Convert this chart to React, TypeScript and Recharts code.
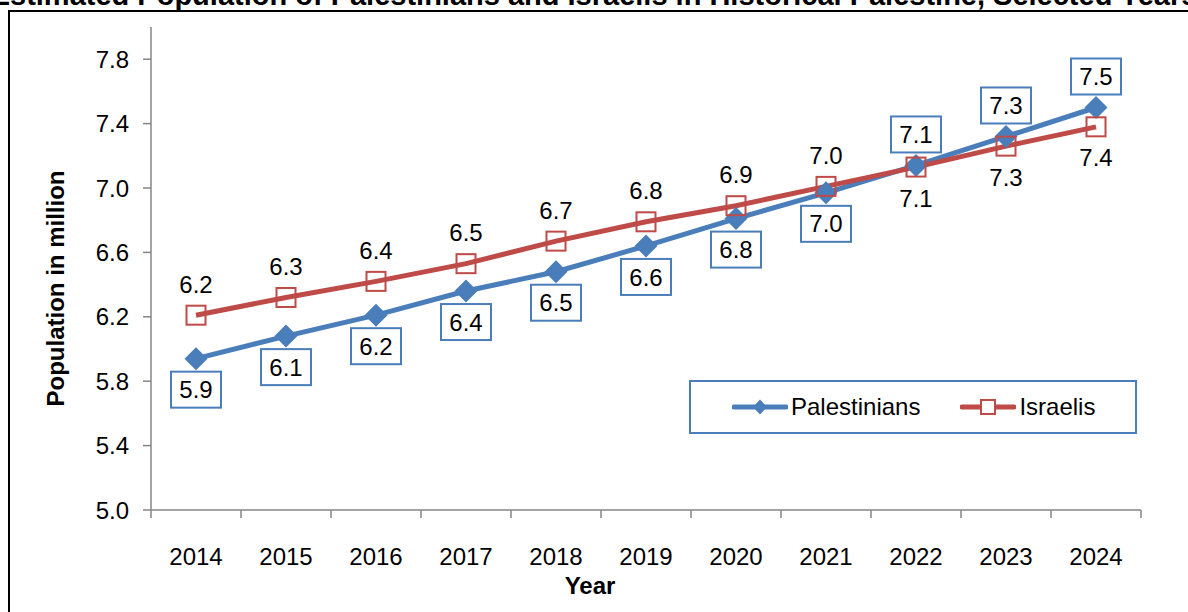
import { LineChart, Line, XAxis, YAxis, LabelList, Label } from 'recharts';

const years = ['2014', '2015', '2016', '2017', '2018', '2019', '2020', '2021', '2022', '2023', '2024'];
const palestinians = [5.94, 6.08, 6.21, 6.36, 6.48, 6.64, 6.81, 6.97, 7.14, 7.32, 7.5];
const israelis = [6.21, 6.32, 6.42, 6.53, 6.67, 6.79, 6.89, 7.01, 7.13, 7.26, 7.38];
const yTicks = [5.0, 5.4, 5.8, 6.2, 6.6, 7.0, 7.4, 7.8];

const TITLE = 'Estimated Population of Palestinians and Israelis in Historical Palestine, Selected Years';
const BLUE = '#4A7EBB';
const RED = '#BE4B48';
const AXIS = '#868686';
const FONT = '"Liberation Sans", Arial, sans-serif';
const FS = 24;

const data = years.map((year, i) => ({
  year,
  palestinians: palestinians[i],
  israelis: israelis[i],
}));

// labels flip sides once the lines cross (2022 onwards)
const flipFrom = 8;

const Diamond = (props: any) => {
  const { cx, cy } = props;
  if (cx == null || cy == null) return null;
  const r = 11.5;
  return (
    <polygon
      points={`${cx},${cy - r} ${cx + r},${cy} ${cx},${cy + r} ${cx - r},${cy}`}
      fill={BLUE}
    />
  );
};

const Square = (props: any) => {
  const { cx, cy } = props;
  if (cx == null || cy == null) return null;
  return <rect x={cx - 9.5} y={cy - 9.5} width={19} height={19} fill="none" stroke={RED} strokeWidth={2} />;
};

const BoxLabel = (props: any) => {
  const { x, y, value, index } = props;
  const cy = y + (index >= flipFrom ? -31 : 31);
  return (
    <g>
      <rect x={x - 25} y={cy - 18} width={50} height={36} fill="#fff" stroke={BLUE} strokeWidth={2} />
      <text x={x} y={cy} dy="0.36em" textAnchor="middle" fontSize={FS} fill="#000" fontFamily={FONT}>
        {Number(value).toFixed(1)}
      </text>
    </g>
  );
};

const PlainLabel = (props: any) => {
  const { x, y, value, index } = props;
  const cy = y + (index >= flipFrom ? 31 : -31);
  return (
    <text x={x} y={cy} dy="0.36em" textAnchor="middle" fontSize={FS} fill="#000" fontFamily={FONT}>
      {Number(value).toFixed(1)}
    </text>
  );
};

// Excel-style category axis: tick marks sit between the categories
const YearTick = (props: any) => {
  const { x, y, payload, index, visibleTicksCount } = props;
  const half = payload.offset || 45;
  const last = index === visibleTicksCount - 1;
  return (
    <g>
      <line x1={x - half} y1={y} x2={x - half} y2={y + 8} stroke={AXIS} strokeWidth={1.5} />
      {last && <line x1={x + half} y1={y} x2={x + half} y2={y + 8} stroke={AXIS} strokeWidth={1.5} />}
      <text x={x} y={y + 46} dy="0.36em" textAnchor="middle" fontSize={FS} fill="#000" fontFamily={FONT}>
        {payload.value}
      </text>
    </g>
  );
};

const LegendBox = () => (
  <div
    style={{
      position: 'absolute',
      left: 689,
      top: 380,
      boxSizing: 'border-box',
      width: 448,
      height: 54,
      border: `2px solid ${BLUE}`,
      background: '#fff',
      display: 'flex',
      alignItems: 'center',
      paddingLeft: 41,
      fontSize: FS,
      fontFamily: FONT,
      color: '#000',
      whiteSpace: 'nowrap',
    }}
  >
    <svg width={56} height={24} style={{ marginRight: 3 }}>
      <line x1={2} y1={12} x2={54} y2={12} stroke={BLUE} strokeWidth={5} strokeLinecap="round" />
      <polygon points="28,4.5 35,12 28,19.5 21,12" fill={BLUE} />
    </svg>
    <span>Palestinians</span>
    <svg width={56} height={24} style={{ marginLeft: 40, marginRight: 3 }}>
      <line x1={2} y1={12} x2={54} y2={12} stroke={RED} strokeWidth={5} strokeLinecap="round" />
      <rect x={21} y={5} width={14} height={14} fill="#fff" stroke={RED} strokeWidth={2} />
    </svg>
    <span>Israelis</span>
  </div>
);

export default function App() {
  return (
    <div
      style={{
        position: 'fixed',
        left: 0,
        top: 0,
        width: 1188,
        height: 612,
        overflow: 'hidden',
        background: '#fff',
        fontFamily: FONT,
      }}
    >
      <div
        style={{
          position: 'absolute',
          left: 0,
          top: -19,
          width: 1188,
          display: 'flex',
          justifyContent: 'center',
          whiteSpace: 'nowrap',
          fontWeight: 'bold',
          fontSize: 29,
          lineHeight: '29px',
          color: '#000',
        }}
      >
        <span>{TITLE}</span>
      </div>
      <div
        style={{
          position: 'absolute',
          left: 8,
          top: 10,
          width: 1300,
          height: 700,
          borderTop: '2px solid #000',
          borderLeft: '2px solid #000',
        }}
      />
      <div style={{ position: 'absolute', left: 0, top: 0 }}>
        <LineChart width={1188} height={612} data={data} margin={{ top: 27, right: 47, bottom: 0, left: 0 }}>
          <XAxis
            dataKey="year"
            scale="band"
            height={102}
            tickLine={false}
            tickSize={0}
            tickMargin={0}
            axisLine={{ stroke: AXIS, strokeWidth: 1.5 }}
            tick={<YearTick />}
            interval={0}
          >
            <Label
              content={(p: any) => {
                const vb = p.viewBox;
                return (
                  <text
                    x={vb.x + vb.width / 2 - 56}
                    y={vb.y + 75}
                    dy="0.36em"
                    textAnchor="middle"
                    fontSize={FS}
                    fontWeight="bold"
                    fill="#000"
                    fontFamily={FONT}
                  >
                    Year
                  </text>
                );
              }}
            />
          </XAxis>
          <YAxis
            width={151}
            domain={[5, 8]}
            ticks={yTicks}
            interval={0}
            tickFormatter={(v: number) => v.toFixed(1)}
            tickSize={8}
            tickMargin={14}
            tickLine={{ stroke: AXIS, strokeWidth: 1.5 }}
            axisLine={{ stroke: AXIS, strokeWidth: 1.5 }}
            tick={{ fill: '#000', fontSize: FS, fontFamily: FONT }}
          >
            <Label
              content={(p: any) => {
                const vb = p.viewBox;
                const cx = vb.x + 55;
                const cy = vb.y + vb.height / 2 + 20;
                return (
                  <text
                    x={cx}
                    y={cy}
                    dy="0.36em"
                    transform={`rotate(-90, ${cx}, ${cy})`}
                    textAnchor="middle"
                    fontSize={FS}
                    fontWeight="bold"
                    fill="#000"
                    fontFamily={FONT}
                  >
                    Population in million
                  </text>
                );
              }}
            />
          </YAxis>
          <Line
            dataKey="palestinians"
            name="Palestinians"
            stroke={BLUE}
            strokeWidth={5}
            dot={<Diamond />}
            activeDot={false}
            isAnimationActive={false}
          >
            <LabelList dataKey="palestinians" content={<BoxLabel />} />
          </Line>
          <Line
            dataKey="israelis"
            name="Israelis"
            stroke={RED}
            strokeWidth={5}
            dot={<Square />}
            activeDot={false}
            isAnimationActive={false}
          >
            <LabelList dataKey="israelis" content={<PlainLabel />} />
          </Line>
        </LineChart>
      </div>
      <LegendBox />
    </div>
  );
}
